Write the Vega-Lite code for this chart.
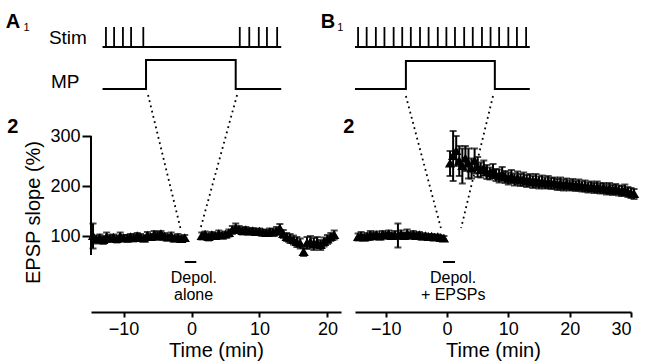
{
  "$schema": "https://vega.github.io/schema/vega-lite/v6.json",
  "background": "white",
  "padding": {"left": 5, "right": 5, "top": 5, "bottom": 5},
  "bounds": "flush",
  "spacing": 14,
  "config": {
    "view": {"stroke": null},
    "font": "Liberation Sans",
    "axis": {
      "grid": false,
      "domainColor": "black",
      "domainWidth": 2,
      "tickColor": "black",
      "tickWidth": 2,
      "labelColor": "black",
      "titleColor": "black",
      "labelFont": "Liberation Sans",
      "titleFont": "Liberation Sans",
      "labelFontSize": 18,
      "titleFontSize": 20,
      "titleFontWeight": "normal"
    },
    "axisX": {"titleFontWeight": "normal"},
    "axisY": {"titleFontWeight": "normal"}
  },
  "datasets": {
    "ptsA": [
      {"t": -14.5, "v": 100, "e": 25}, {"t": -14, "v": 93, "e": 8}, {"t": -13.5, "v": 96, "e": 7}, {"t": -13, "v": 92, "e": 8},
      {"t": -12.5, "v": 98, "e": 9}, {"t": -12, "v": 95, "e": 7}, {"t": -11.5, "v": 97, "e": 6}, {"t": -11, "v": 94, "e": 7},
      {"t": -10.5, "v": 99, "e": 8}, {"t": -10, "v": 96, "e": 6}, {"t": -9.5, "v": 95, "e": 7}, {"t": -9, "v": 98, "e": 6},
      {"t": -8.5, "v": 96, "e": 7}, {"t": -8, "v": 100, "e": 6}, {"t": -7.5, "v": 97, "e": 7}, {"t": -7, "v": 95, "e": 6},
      {"t": -6.5, "v": 101, "e": 7}, {"t": -6, "v": 98, "e": 6}, {"t": -5.5, "v": 103, "e": 7}, {"t": -5, "v": 100, "e": 8},
      {"t": -4.5, "v": 104, "e": 6}, {"t": -4, "v": 99, "e": 7}, {"t": -3.5, "v": 97, "e": 6}, {"t": -3, "v": 100, "e": 7},
      {"t": -2.5, "v": 95, "e": 6}, {"t": -2, "v": 97, "e": 7}, {"t": -1.5, "v": 94, "e": 6}, {"t": -1, "v": 96, "e": 6},
      {"t": 1.5, "v": 100, "e": 7}, {"t": 2, "v": 103, "e": 6}, {"t": 2.5, "v": 98, "e": 7}, {"t": 3, "v": 102, "e": 6},
      {"t": 3.5, "v": 100, "e": 6}, {"t": 4, "v": 104, "e": 7}, {"t": 4.5, "v": 101, "e": 6}, {"t": 5, "v": 103, "e": 6},
      {"t": 5.5, "v": 106, "e": 7}, {"t": 6, "v": 112, "e": 8}, {"t": 6.5, "v": 116, "e": 9}, {"t": 7, "v": 113, "e": 7},
      {"t": 7.5, "v": 110, "e": 7}, {"t": 8, "v": 112, "e": 6}, {"t": 8.5, "v": 109, "e": 6}, {"t": 9, "v": 110, "e": 6},
      {"t": 9.5, "v": 108, "e": 6}, {"t": 10, "v": 109, "e": 6}, {"t": 10.5, "v": 107, "e": 6}, {"t": 11, "v": 106, "e": 6},
      {"t": 11.5, "v": 108, "e": 7}, {"t": 12, "v": 107, "e": 7}, {"t": 12.5, "v": 110, "e": 8}, {"t": 13, "v": 115, "e": 9},
      {"t": 13.5, "v": 104, "e": 8}, {"t": 14, "v": 98, "e": 8}, {"t": 14.5, "v": 95, "e": 9}, {"t": 15, "v": 92, "e": 9},
      {"t": 15.5, "v": 88, "e": 10}, {"t": 16, "v": 85, "e": 10}, {"t": 16.5, "v": 68, "e": 8}, {"t": 17, "v": 86, "e": 12},
      {"t": 17.5, "v": 88, "e": 12}, {"t": 18, "v": 84, "e": 12}, {"t": 18.5, "v": 87, "e": 11}, {"t": 19, "v": 82, "e": 10},
      {"t": 19.5, "v": 88, "e": 9}, {"t": 20, "v": 93, "e": 9}, {"t": 20.5, "v": 98, "e": 8}, {"t": 21, "v": 102, "e": 9}
    ],
    "ptsB": [
      {"t": -14.5, "v": 98, "e": 7}, {"t": -14, "v": 100, "e": 8}, {"t": -13.5, "v": 97, "e": 6}, {"t": -13, "v": 99, "e": 7},
      {"t": -12.5, "v": 101, "e": 9}, {"t": -12, "v": 100, "e": 6}, {"t": -11.5, "v": 102, "e": 7}, {"t": -11, "v": 99, "e": 6},
      {"t": -10.5, "v": 103, "e": 7}, {"t": -10, "v": 101, "e": 6}, {"t": -9.5, "v": 104, "e": 7}, {"t": -9, "v": 100, "e": 6},
      {"t": -8.5, "v": 102, "e": 8}, {"t": -8, "v": 101, "e": 24}, {"t": -7.5, "v": 104, "e": 7}, {"t": -7, "v": 100, "e": 6},
      {"t": -6.5, "v": 105, "e": 8}, {"t": -6, "v": 101, "e": 6}, {"t": -5.5, "v": 103, "e": 7}, {"t": -5, "v": 100, "e": 6},
      {"t": -4.5, "v": 102, "e": 6}, {"t": -4, "v": 99, "e": 6}, {"t": -3.5, "v": 100, "e": 5}, {"t": -3, "v": 98, "e": 5},
      {"t": -2.5, "v": 99, "e": 5}, {"t": -2, "v": 97, "e": 5}, {"t": -1.5, "v": 98, "e": 5}, {"t": -1, "v": 96, "e": 5},
      {"t": -0.5, "v": 95, "e": 5},
      {"t": 0.5, "v": 245, "e": 25}, {"t": 1, "v": 260, "e": 50}, {"t": 1.5, "v": 270, "e": 30}, {"t": 2, "v": 250, "e": 30},
      {"t": 2.5, "v": 240, "e": 35}, {"t": 3, "v": 255, "e": 25}, {"t": 3.5, "v": 245, "e": 30}, {"t": 4, "v": 235, "e": 20},
      {"t": 4.5, "v": 250, "e": 25}, {"t": 5, "v": 238, "e": 20}, {"t": 5.5, "v": 232, "e": 15}, {"t": 6, "v": 236, "e": 15},
      {"t": 6.5, "v": 228, "e": 14}, {"t": 7, "v": 225, "e": 12}, {"t": 7.5, "v": 230, "e": 14}, {"t": 8, "v": 222, "e": 12},
      {"t": 8.5, "v": 220, "e": 13}, {"t": 9, "v": 224, "e": 14}, {"t": 9.5, "v": 218, "e": 12}, {"t": 10, "v": 215, "e": 12},
      {"t": 10.5, "v": 219, "e": 13}, {"t": 11, "v": 213, "e": 12}, {"t": 11.5, "v": 216, "e": 13}, {"t": 12, "v": 212, "e": 12},
      {"t": 12.5, "v": 214, "e": 13}, {"t": 13, "v": 210, "e": 12}, {"t": 13.5, "v": 212, "e": 12}, {"t": 14, "v": 208, "e": 12},
      {"t": 14.5, "v": 211, "e": 13}, {"t": 15, "v": 207, "e": 12}, {"t": 15.5, "v": 209, "e": 12}, {"t": 16, "v": 206, "e": 11},
      {"t": 16.5, "v": 208, "e": 12}, {"t": 17, "v": 205, "e": 11}, {"t": 17.5, "v": 206, "e": 11}, {"t": 18, "v": 203, "e": 11},
      {"t": 18.5, "v": 205, "e": 12}, {"t": 19, "v": 202, "e": 11}, {"t": 19.5, "v": 204, "e": 11}, {"t": 20, "v": 201, "e": 10},
      {"t": 20.5, "v": 203, "e": 11}, {"t": 21, "v": 200, "e": 10}, {"t": 21.5, "v": 202, "e": 11}, {"t": 22, "v": 199, "e": 10},
      {"t": 22.5, "v": 200, "e": 11}, {"t": 23, "v": 197, "e": 10}, {"t": 23.5, "v": 199, "e": 10}, {"t": 24, "v": 196, "e": 10},
      {"t": 24.5, "v": 198, "e": 11}, {"t": 25, "v": 195, "e": 10}, {"t": 25.5, "v": 196, "e": 10}, {"t": 26, "v": 193, "e": 10},
      {"t": 26.5, "v": 195, "e": 11}, {"t": 27, "v": 192, "e": 10}, {"t": 27.5, "v": 194, "e": 10}, {"t": 28, "v": 191, "e": 10},
      {"t": 28.5, "v": 190, "e": 10}, {"t": 29, "v": 192, "e": 11}, {"t": 29.5, "v": 188, "e": 10}, {"t": 30, "v": 186, "e": 10},
      {"t": 30.5, "v": 184, "e": 10}
    ]
  },
  "hconcat": [
    {
      "width": 250,
      "height": 307,
      "layer": [
        {
          "data": {"values": [{"t": -14.8, "v": 62, "v2": 300}]},
          "mark": {"type": "rule", "strokeWidth": 2, "color": "black"},
          "encoding": {
            "x": {"field": "t", "type": "quantitative", "title": "Time (min)", "scale": {"domain": [-14.8, 22], "nice": false, "zero": false},
                  "axis": {"title": "Time (min)", "values": [-10, 0, 10, 20], "tickSize": 5, "labelPadding": 3, "titlePadding": 2, "titleFontWeight": "normal"}},
            "y": {"field": "v", "type": "quantitative", "title": "EPSP slope (%)", "scale": {"domain": [-52, 562], "nice": false, "zero": false},
                  "axis": {"title": "EPSP slope (%)", "values": [100, 200, 300], "domain": false, "tickSize": 9, "labelPadding": 2, "titlePadding": 6, "titleY": 207, "titleFontWeight": "normal"}},
            "y2": {"field": "v2"}
          }
        },
        {
          "data": {"values": [{"t": -13.1, "t2": 13.2, "v": 478}, {"t": -1.0, "t2": 0.7, "v": 48}]},
          "mark": {"type": "rule", "strokeWidth": 2, "color": "black"},
          "encoding": {"x": {"field": "t", "type": "quantitative", "title": "Time (min)"}, "x2": {"field": "t2"}, "y": {"field": "v", "type": "quantitative", "title": "EPSP slope (%)"}}
        },
        {
          "data": {"values": [
            {"t": -12.6, "v": 478, "v2": 518}, {"t": -11.4, "v": 478, "v2": 518}, {"t": -10.1, "v": 478, "v2": 518},
            {"t": -8.9, "v": 478, "v2": 518}, {"t": -7.1, "v": 478, "v2": 518},
            {"t": 7.1, "v": 478, "v2": 518}, {"t": 8.5, "v": 478, "v2": 518}, {"t": 9.9, "v": 478, "v2": 518},
            {"t": 11.1, "v": 478, "v2": 518}, {"t": 12.6, "v": 478, "v2": 518}
          ]},
          "mark": {"type": "rule", "strokeWidth": 1.8, "color": "black"},
          "encoding": {"x": {"field": "t", "type": "quantitative", "title": "Time (min)"}, "y": {"field": "v", "type": "quantitative", "title": "EPSP slope (%)"}, "y2": {"field": "v2"}}
        },
        {
          "data": {"values": [
            {"i": 1, "t": -13.1, "v": 394}, {"i": 2, "t": -6.7, "v": 394}, {"i": 3, "t": -6.7, "v": 452},
            {"i": 4, "t": 6.5, "v": 452}, {"i": 5, "t": 6.5, "v": 394}, {"i": 6, "t": 13.2, "v": 394}
          ]},
          "mark": {"type": "line", "strokeWidth": 2, "color": "black"},
          "encoding": {"x": {"field": "t", "type": "quantitative", "title": "Time (min)"}, "y": {"field": "v", "type": "quantitative", "title": "EPSP slope (%)"}, "order": {"field": "i"}}
        },
        {
          "data": {"values": [
            {"t": -6.4, "v": 382, "t2": -1.6, "v2": 114},
            {"t": 6.7, "v": 382, "t2": 1.3, "v2": 114}
          ]},
          "mark": {"type": "rule", "strokeWidth": 1.8, "strokeDash": [1.8, 3.6], "color": "black"},
          "encoding": {"x": {"field": "t", "type": "quantitative", "title": "Time (min)"}, "y": {"field": "v", "type": "quantitative", "title": "EPSP slope (%)"}, "x2": {"field": "t2"}, "y2": {"field": "v2"}}
        },
        {
          "data": {"name": "ptsA"},
          "mark": {"type": "errorbar", "ticks": true, "size": 7, "thickness": 2, "color": "black"},
          "encoding": {"x": {"field": "t", "type": "quantitative", "title": "Time (min)"}, "y": {"field": "v", "type": "quantitative", "title": "EPSP slope (%)"}, "yError": {"field": "e"}}
        },
        {
          "data": {"name": "ptsA"},
          "mark": {"type": "point", "shape": "triangle-up", "filled": true, "size": 60, "color": "black", "stroke": "black", "strokeWidth": 1.5, "opacity": 1},
          "encoding": {"x": {"field": "t", "type": "quantitative", "title": "Time (min)"}, "y": {"field": "v", "type": "quantitative", "title": "EPSP slope (%)"}}
        },
        {
          "data": {"values": [{"t": -26.3, "v": 528, "txt": "A"}, {"t": -26.3, "v": 318, "txt": "2"}]},
          "mark": {"type": "text", "fontSize": 20, "fontWeight": "bold", "color": "black", "align": "center", "baseline": "middle"},
          "encoding": {"x": {"field": "t", "type": "quantitative", "title": "Time (min)"}, "y": {"field": "v", "type": "quantitative", "title": "EPSP slope (%)"}, "text": {"field": "txt"}}
        },
        {
          "data": {"values": [{"t": -24.3, "v": 516, "txt": "1"}]},
          "mark": {"type": "text", "fontSize": 11, "color": "black", "align": "center", "baseline": "middle"},
          "encoding": {"x": {"field": "t", "type": "quantitative", "title": "Time (min)"}, "y": {"field": "v", "type": "quantitative", "title": "EPSP slope (%)"}, "text": {"field": "txt"}}
        },
        {
          "data": {"values": [{"t": -18.2, "v": 496, "txt": "Stim"}, {"t": -18.6, "v": 408, "txt": "MP"}]},
          "mark": {"type": "text", "fontSize": 19, "color": "black", "align": "center", "baseline": "middle"},
          "encoding": {"x": {"field": "t", "type": "quantitative", "title": "Time (min)"}, "y": {"field": "v", "type": "quantitative", "title": "EPSP slope (%)"}, "text": {"field": "txt"}}
        },
        {
          "data": {"values": [{"t": 0.35, "v": 16, "txt": "Depol."}, {"t": 0.3, "v": -18, "txt": "alone"}]},
          "mark": {"type": "text", "fontSize": 16, "color": "black", "align": "center", "baseline": "middle"},
          "encoding": {"x": {"field": "t", "type": "quantitative", "title": "Time (min)"}, "y": {"field": "v", "type": "quantitative", "title": "EPSP slope (%)"}, "text": {"field": "txt"}}
        }
      ]
    },
    {
      "width": 276,
      "height": 307,
      "layer": [
        {
          "data": {"values": [{"t": -15, "t2": 13.5, "v": 478}, {"t": -0.65, "t2": 1.3, "v": 48}]},
          "mark": {"type": "rule", "strokeWidth": 2, "color": "black"},
          "encoding": {
            "x": {"field": "t", "type": "quantitative", "title": "Time (min)", "scale": {"domain": [-15, 30], "nice": false, "zero": false},
                  "axis": {"title": "Time (min)", "values": [-10, 0, 10, 20, 30], "tickSize": 5, "labelPadding": 3, "titlePadding": 2, "titleFontWeight": "normal"}},
            "x2": {"field": "t2"},
            "y": {"field": "v", "type": "quantitative", "scale": {"domain": [-52, 562], "nice": false, "zero": false}, "axis": null}
          }
        },
        {
          "data": {"values": [
            {"t": -14.5, "v": 478, "v2": 518}, {"t": -13.1, "v": 478, "v2": 518}, {"t": -11.6, "v": 478, "v2": 518},
            {"t": -10.2, "v": 478, "v2": 518}, {"t": -8.7, "v": 478, "v2": 518}, {"t": -7.3, "v": 478, "v2": 518},
            {"t": -5.9, "v": 478, "v2": 518}, {"t": -4.4, "v": 478, "v2": 518}, {"t": -3.0, "v": 478, "v2": 518},
            {"t": -1.5, "v": 478, "v2": 518}, {"t": -0.1, "v": 478, "v2": 518}, {"t": 1.3, "v": 478, "v2": 518},
            {"t": 2.8, "v": 478, "v2": 518}, {"t": 4.2, "v": 478, "v2": 518}, {"t": 5.7, "v": 478, "v2": 518},
            {"t": 7.1, "v": 478, "v2": 518}, {"t": 8.5, "v": 478, "v2": 518}, {"t": 10.0, "v": 478, "v2": 518},
            {"t": 11.4, "v": 478, "v2": 518}, {"t": 12.9, "v": 478, "v2": 518}
          ]},
          "mark": {"type": "rule", "strokeWidth": 1.8, "color": "black"},
          "encoding": {"x": {"field": "t", "type": "quantitative", "title": "Time (min)"}, "y": {"field": "v", "type": "quantitative"}, "y2": {"field": "v2"}}
        },
        {
          "data": {"values": [
            {"i": 1, "t": -15, "v": 394}, {"i": 2, "t": -6.7, "v": 394}, {"i": 3, "t": -6.7, "v": 450},
            {"i": 4, "t": 7.8, "v": 450}, {"i": 5, "t": 7.8, "v": 394}, {"i": 6, "t": 13.5, "v": 394}
          ]},
          "mark": {"type": "line", "strokeWidth": 2, "color": "black"},
          "encoding": {"x": {"field": "t", "type": "quantitative", "title": "Time (min)"}, "y": {"field": "v", "type": "quantitative"}, "order": {"field": "i"}}
        },
        {
          "data": {"values": [
            {"t": -6.7, "v": 380, "t2": -1.0, "v2": 116},
            {"t": 7.5, "v": 380, "t2": 2.3, "v2": 116}
          ]},
          "mark": {"type": "rule", "strokeWidth": 1.8, "strokeDash": [1.8, 3.6], "color": "black"},
          "encoding": {"x": {"field": "t", "type": "quantitative", "title": "Time (min)"}, "y": {"field": "v", "type": "quantitative"}, "x2": {"field": "t2"}, "y2": {"field": "v2"}}
        },
        {
          "data": {"name": "ptsB"},
          "mark": {"type": "errorbar", "ticks": true, "size": 7, "thickness": 2, "color": "black"},
          "encoding": {"x": {"field": "t", "type": "quantitative", "title": "Time (min)"}, "y": {"field": "v", "type": "quantitative"}, "yError": {"field": "e"}}
        },
        {
          "data": {"name": "ptsB"},
          "mark": {"type": "point", "shape": "triangle-up", "filled": true, "size": 60, "color": "black", "stroke": "black", "strokeWidth": 1.5, "opacity": 1},
          "encoding": {"x": {"field": "t", "type": "quantitative", "title": "Time (min)"}, "y": {"field": "v", "type": "quantitative"}}
        },
        {
          "data": {"values": [{"t": -19.4, "v": 528, "txt": "B"}, {"t": -16.0, "v": 318, "txt": "2"}]},
          "mark": {"type": "text", "fontSize": 20, "fontWeight": "bold", "color": "black", "align": "center", "baseline": "middle"},
          "encoding": {"x": {"field": "t", "type": "quantitative", "title": "Time (min)"}, "y": {"field": "v", "type": "quantitative"}, "text": {"field": "txt"}}
        },
        {
          "data": {"values": [{"t": -17.4, "v": 516, "txt": "1"}]},
          "mark": {"type": "text", "fontSize": 11, "color": "black", "align": "center", "baseline": "middle"},
          "encoding": {"x": {"field": "t", "type": "quantitative", "title": "Time (min)"}, "y": {"field": "v", "type": "quantitative"}, "text": {"field": "txt"}}
        },
        {
          "data": {"values": [{"t": 1.0, "v": 16, "txt": "Depol."}, {"t": 1.0, "v": -18, "txt": "+ EPSPs"}]},
          "mark": {"type": "text", "fontSize": 16, "color": "black", "align": "center", "baseline": "middle"},
          "encoding": {"x": {"field": "t", "type": "quantitative", "title": "Time (min)"}, "y": {"field": "v", "type": "quantitative"}, "text": {"field": "txt"}}
        }
      ]
    }
  ]
}
